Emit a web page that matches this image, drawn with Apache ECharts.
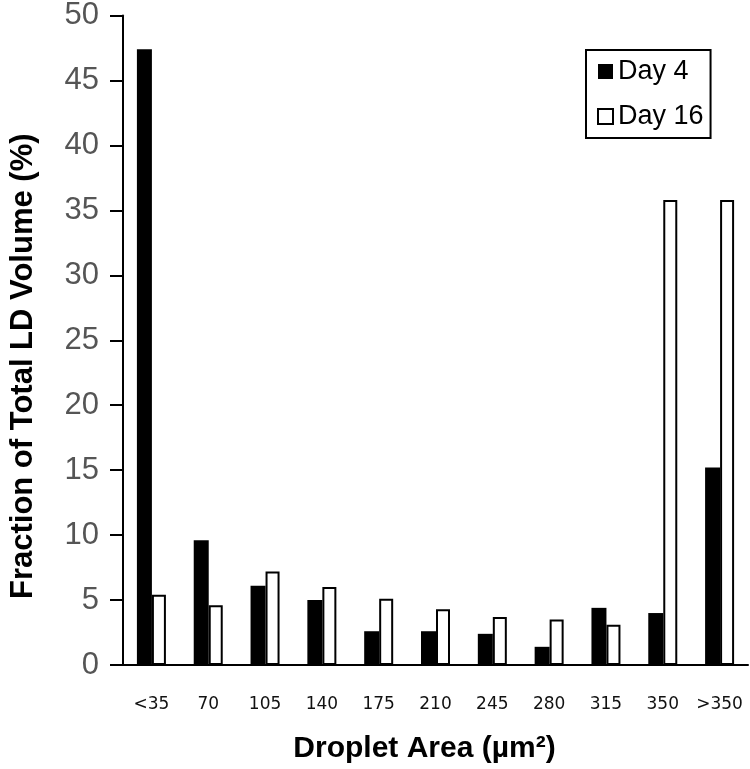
<!DOCTYPE html>
<html>
<head>
<meta charset="utf-8">
<script src="https://cdn.jsdelivr.net/npm/echarts@6/dist/echarts.min.js"></script>
<style>
  html, body { margin: 0; padding: 0; background: #fff; }
  #chart { width: 750px; height: 769px; }
</style>
</head>
<body>
<div id="chart"></div>
<script>
// droplet area bins (µm²)
const categories = ['<35', '70', '105', '140', '175', '210', '245', '280', '315', '350', '>350']
const day4 = [47.4, 9.6, 6.1, 5.0, 2.6, 2.6, 2.4, 1.4, 4.4, 4.0, 15.2]
const day16 = [5.4, 4.6, 7.2, 6.0, 5.1, 4.3, 3.7, 3.5, 3.1, 35.8, 35.8]
const yTicks = { min: 0, max: 50, interval: 5 }

const chart = echarts.init(document.getElementById('chart'))

chart.setOption({
  animation: false,
  backgroundColor: '#fff',
  grid: {
    left: 115,
    right: 2,
    top: 15,
    bottom: 102
  },
  legend: {
    orient: 'vertical',
    left: 586,
    top: 50,
    borderColor: '#000',
    borderWidth: 2,
    padding: [8, 7, 8, 11],
    itemGap: 18,
    itemWidth: 15,
    itemHeight: 15,
    icon: 'rect',
    textStyle: {
      fontFamily: 'Liberation Sans',
      fontSize: 27,
      color: '#000'
    },
    data: ['Day 4', 'Day 16']
  },
  xAxis: {
    type: 'category',
    data: categories,
    name: 'Droplet Area (µm²)',
    nameLocation: 'middle',
    nameGap: 69,
    nameTextStyle: {
      fontFamily: 'Liberation Sans',
      fontWeight: 'bold',
      fontSize: 30,
      color: '#000',
      padding: [0, 22, 0, 0]
    },
    axisLine: { lineStyle: { color: '#000', width: 2 } },
    axisTick: {
      alignWithLabel: false,
      length: 13,
      lineStyle: { color: '#000', width: 2 }
    },
    axisLabel: {
      interval: 0,
      margin: 31,
      fontFamily: 'DejaVu Sans',
      fontSize: 17,
      color: '#111'
    }
  },
  yAxis: {
    type: 'value',
    min: yTicks.min,
    max: yTicks.max,
    interval: yTicks.interval,
    name: 'Fraction of Total LD Volume (%)',
    nameLocation: 'middle',
    nameGap: 84,
    nameTextStyle: {
      fontFamily: 'Liberation Sans',
      fontWeight: 'bold',
      fontSize: 31,
      color: '#000',
      padding: [0, 52, 0, 0]
    },
    splitLine: { show: false },
    axisLine: { show: true, lineStyle: { color: '#000', width: 2 } },
    axisTick: {
      show: true,
      length: 13,
      lineStyle: { color: '#000', width: 2 }
    },
    axisLabel: {
      margin: 24,
      fontFamily: 'Liberation Sans',
      fontSize: 31,
      color: '#555'
    }
  },
  series: [{
    name: 'Day 4',
    type: 'bar',
    barWidth: 15,
    barGap: '0%',
    itemStyle: { color: '#000' },
    data: day4
  }, {
    name: 'Day 16',
    type: 'bar',
    barWidth: 14,
    itemStyle: { color: '#fff', borderColor: '#000', borderWidth: 2 },
    data: day16
  }]
})
</script>
</body>
</html>
